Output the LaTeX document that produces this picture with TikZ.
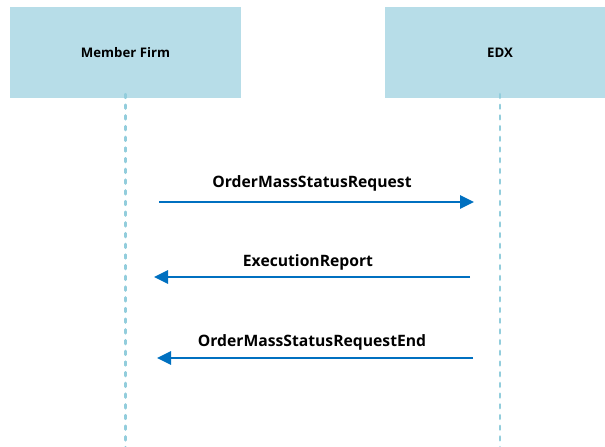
\documentclass[tikz,border=0pt]{standalone}
\usepackage{fontspec}
\setmainfont{Open Sans}
\usetikzlibrary{arrows.meta}
\definecolor{boxblue}{HTML}{B7DDE8}
\definecolor{lifeblue}{HTML}{92CDDC}
\definecolor{msgblue}{HTML}{0070C0}

\begin{document}
\begin{tikzpicture}[x=1pt,y=-1pt,
    actor/.style={fill=boxblue, minimum width=231pt, minimum height=91pt, inner sep=0pt,
                  font=\bfseries\fontsize{13.2}{15}\selectfont},
    lifeline/.style={lifeblue, line width=2.8pt, line cap=round, dash pattern=on 3.6pt off 7.1pt},
    msg/.style={msgblue, line width=2.8pt, -{Triangle[length=14pt,width=13pt]}},
    msglabel/.style={font=\bfseries\fontsize{15.7}{18}\selectfont}]
    \useasboundingbox (0,0) rectangle (605,447);
    \clip (0,0) rectangle (605,447);

    % Participants
    \node[actor] (firm) at (125.5, 52.5) {Member Firm};
    \node[actor] (edx) at (500, 52.5) {EDX};

    % Lifelines
    \coordinate (firm-end) at (125.5, 450);
    \coordinate (edx-end) at (500, 450);
    \draw[lifeline] ([yshift=4pt]firm.south) -- (firm-end);
    \draw[lifeline] ([yshift=4pt]edx.south) -- (edx-end);

    % Messages
    \coordinate (req-a) at (159, 202);
    \coordinate (req-b) at (474, 202);
    \draw[msg] (req-a) -- (req-b);
    \node[msglabel] (req) at (312, 183) {OrderMassStatusRequest};

    \coordinate (rep-a) at (470, 277);
    \coordinate (rep-b) at (154, 277);
    \draw[msg] (rep-a) -- (rep-b);
    \node[msglabel] (rep) at (308, 262) {ExecutionReport};

    \coordinate (end-a) at (473, 358);
    \coordinate (end-b) at (157, 358);
    \draw[msg] (end-a) -- (end-b);
    \node[msglabel] (fin) at (312, 342) {OrderMassStatusRequestEnd};
\end{tikzpicture}
\end{document}
